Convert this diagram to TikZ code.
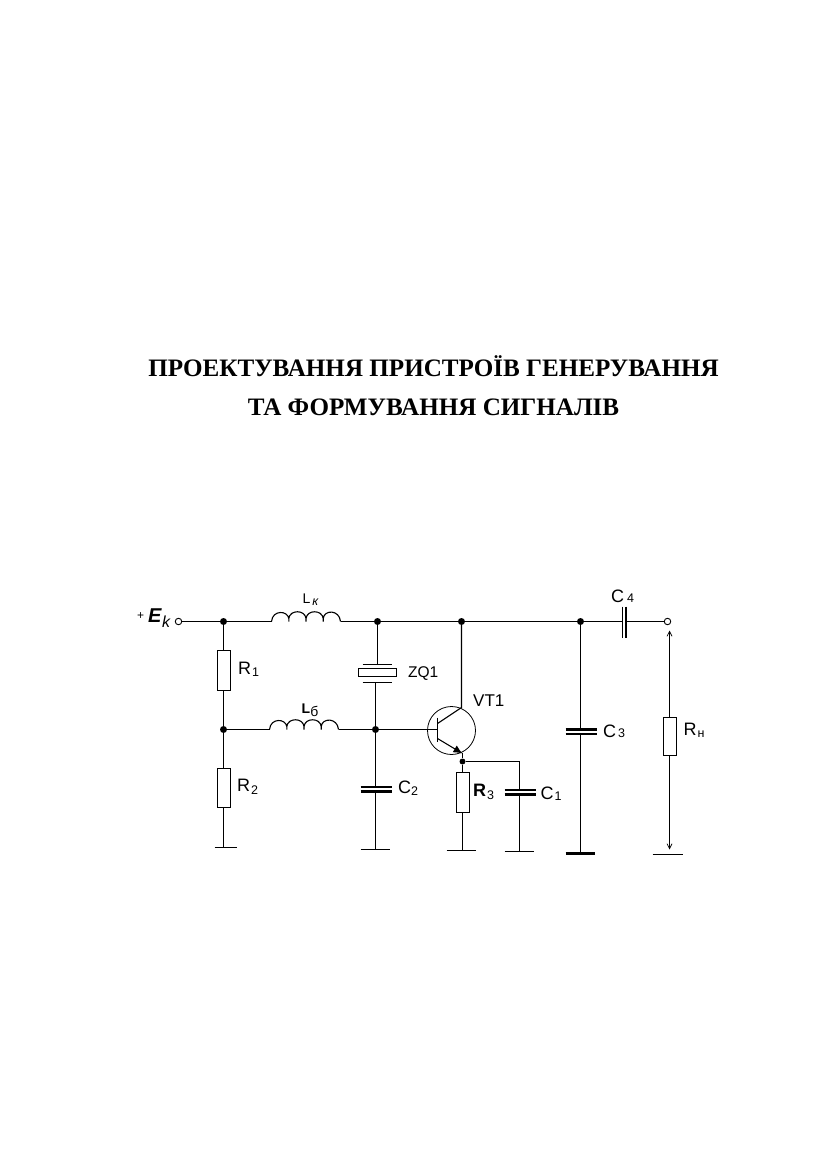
\documentclass[tikz,border=0pt]{standalone}
\usepackage{fontspec}
\setmainfont{Liberation Serif}
\setsansfont{Liberation Sans}
\usetikzlibrary{arrows.meta,calc}
\tikzset{
  x=1pt,y=-1pt,
  wire/.style={line width=1.1pt,black},
  dot/.style={circle,fill=black,inner sep=0pt,minimum size=7pt},
  term/.style={circle,draw=black,fill=white,line width=0.9pt,inner sep=0pt,minimum size=6.5pt},
  resbox/.style={draw=black,fill=white,line width=1.1pt,inner sep=0pt,minimum width=13pt,minimum height=39.5pt},
  xtalbox/.style={draw=black,fill=white,line width=1.1pt,inner sep=0pt,minimum width=38pt,minimum height=8pt},
  plate/.style={line width=2.1pt,black},
  lab/.style={font=\sffamily\fontsize{18}{18}\selectfont,inner sep=0pt,anchor=base west},
  ttl/.style={font=\rmfamily\bfseries\fontsize{25.1}{25}\selectfont,inner sep=0pt,anchor=base},
  gnd/.style={line width=1.1pt,black},
  thickgnd/.style={line width=2.2pt,black},
}
\newcommand{\subs}[2][-2pt]{\raisebox{#1}{\fontsize{12.5}{12}\selectfont #2}}
\newcommand{\coilpath}[1]{% four bumps from a named coordinate, with short stems between them
  \draw[wire] (#1) .. controls +(1,-12) and +(-1,-8) .. ++(17.3,-3)
     -- ++(0,3) ++(0,-3) .. controls +(1,-9) and +(-1,-9) .. ++(17.2,0)
     -- ++(0,3) ++(0,-3) .. controls +(1,-9) and +(-1,-9) .. ++(17.2,0)
     -- ++(0,3) ++(0,-3) .. controls +(1,-9) and +(-1,-12) .. ++(17.3,3);}
\begin{document}
\begin{tikzpicture}
\useasboundingbox (0,0) rectangle (827,1169);
\fill[white] (0,0) rectangle (827,1169);
\node[ttl] (t1) at (433.5,376) {ПРОЕКТУВАННЯ ПРИСТРОЇВ ГЕНЕРУВАННЯ};
\node[ttl] (t2) at (433.5,415.5) {ТА ФОРМУВАННЯ СИГНАЛІВ};
\begin{scope}[shift={(0.5,0.5)}]
% terminals and junctions
\node[term] (ek) at (178,621) {};
\node[dot] (j1) at (223,621) {};
\node[dot] (j2) at (377,621) {};
\node[dot] (j6) at (461,621) {};
\node[dot] (j7) at (580,621) {};
\node[term] (out) at (667,621) {};
\node[dot] (j3) at (223,729) {};
\node[dot] (j4) at (375,729) {};
\node[dot,minimum size=6pt] (j5) at (462,761) {};
% coils
\coordinate (l1a) at (271,621); \coordinate (l1b) at (340,621);
\coordinate (l2a) at (269,729); \coordinate (l2b) at (338,729);
\draw[wire] (ek) -- (j1) -- (l1a);
\draw[wire] (l1b) -- (j2) -- (j6) -- (j7) -- (622,621);
\draw[wire] (j3) -- (l2a);
\draw[wire] (l2b) -- (j4) -- (437,729);
\coilpath{l1a}
\coilpath{l2a}
% C4
\coordinate (c4a) at (622,621); \coordinate (c4b) at (626,621);
\draw[wire] (c4b) -- (out);
\draw[line width=1.6pt] (621.8,606) -- (621.8,637);
\draw[line width=1.6pt] (625.6,606) -- (625.6,637);
% R1, R2
\node[resbox] (r1) at (223.5,670) {};
\node[resbox] (r2) at (223.5,787.5) {};
\coordinate (g1) at (223,847);
\draw[wire] (j1) -- (j1 |- r1.north);
\draw[wire] (j1 |- r1.south) -- (j3);
\draw[wire] (j3) -- (j3 |- r2.north);
\draw[wire] (j3 |- r2.south) -- (g1);
\draw[gnd] (214,847) -- (236,847);
% crystal
\node[xtalbox] (zq) at (377,672) {};
\draw[wire] (j2) -- (377,664);
\draw[gnd] (362,664) -- (391,664);
\draw[gnd] (362,682) -- (391,682);
\draw[wire] (375,682) -- (j4);
% C2
\coordinate (g2) at (375,849);
\draw[wire] (j4) -- (375,787);
\draw[wire] (375,791) -- (g2);
\draw[plate] (360,786.5) -- (391,786.5);
\draw[plate] (360,791) -- (391,791);
\draw[gnd] (360,849) -- (389,849);
% transistor
\node[circle,draw=black,line width=0.8pt,inner sep=0pt,minimum size=48pt] (vt) at (451,730) {};
\coordinate (b) at (437,729);
\draw[wire,line width=1.2pt] (437,717) -- (437,741);
\draw[wire] (j6) -- (461,707) -- (437,723);
\draw[wire,-{Latex[length=9pt,width=8pt]}] (437,738) -- (462,753);
\draw[wire] (462,752) -- (j5);
% R3
\node[resbox] (r3) at (462.5,792) {};
\coordinate (g3) at (462,850);
\draw[wire] (j5) -- (j5 |- r3.north);
\draw[wire] (j5 |- r3.south) -- (g3);
\draw[gnd] (446,850) -- (475,850);
% C1
\coordinate (c1t) at (519,761); \coordinate (g4) at (519,851);
\draw[wire] (j5) -- (c1t) -- (519,789.5);
\draw[wire] (519,794) -- (g4);
\draw[plate] (504,789.5) -- (535,789.5);
\draw[plate] (504,794) -- (535,794);
\draw[gnd] (504,851) -- (533,851);
% C3
\coordinate (g5) at (580,853);
\draw[wire] (j7) -- (580,729);
\draw[wire] (580,734) -- (g5);
\draw[plate] (565,729) -- (596,729);
\draw[plate] (565,733.5) -- (596,733.5);
\draw[thickgnd] (565,853) -- (594,853);
% RH
\node[resbox,minimum height=38.5pt] (rh) at (669.5,736) {};
\coordinate (rt) at (669,630); \coordinate (rb) at (669,849);
\draw[wire,{Straight Barb[length=5pt,width=5pt,line width=0.7pt]}-] (rt) -- (rt |- rh.north);
\draw[wire,-{Straight Barb[length=5pt,width=5pt,line width=0.7pt]}] (rt |- rh.south) -- (rb);
\draw[gnd] (652,854) -- (682,854);
\end{scope}
% labels
\node[font=\sffamily\fontsize{12}{12}\selectfont,inner sep=0pt,anchor=base west] (lplus) at (137,619) {+};
\node[font=\sffamily\bfseries\itshape\fontsize{20}{20}\selectfont,inner sep=0pt,anchor=base west] (lE) at (148,622) {E};
\node[font=\sffamily\itshape\fontsize{16}{16}\selectfont,inner sep=0pt,anchor=base west] (lk) at (162,627) {k};
\node[lab,font=\sffamily\fontsize{14}{14}\selectfont] (ll1) at (302.5,603) {L\kern2pt\subs{\itshape к}};
\node[lab,font=\sffamily\bfseries\fontsize{14}{14}\selectfont] (ll2) at (301.5,713) {L\subs[-3pt]{\mdseries\fontsize{14}{14}\selectfont б}};
\node[lab] (lr1) at (238,674) {R\kern1pt\subs{1}};
\node[lab] (lr2) at (237,791) {R\kern1pt\subs[-3pt]{2}};
\node[lab] (lc2) at (398,793) {C\subs{2}};
\node[lab] (lr3) at (473,796) {\textbf{R}\kern1pt\subs[-3pt]{3}};
\node[lab] (lc1) at (540.5,799) {C\kern1pt\subs[-1pt]{1}};
\node[lab] (lc3) at (603,737) {C\kern2pt\subs[0pt]{3}};
\node[lab] (lc4) at (611,602) {C\kern3pt\subs[0pt]{4}};
\node[lab] (lrh) at (683.5,735) {R\kern1pt\subs{н}};
\node[lab,font=\sffamily\fontsize{15.5}{15}\selectfont] (lzq) at (408,677) {ZQ1};
\node[lab,font=\sffamily\fontsize{17}{17}\selectfont] (lvt) at (473,706) {VT1};
\end{tikzpicture}
\end{document}
